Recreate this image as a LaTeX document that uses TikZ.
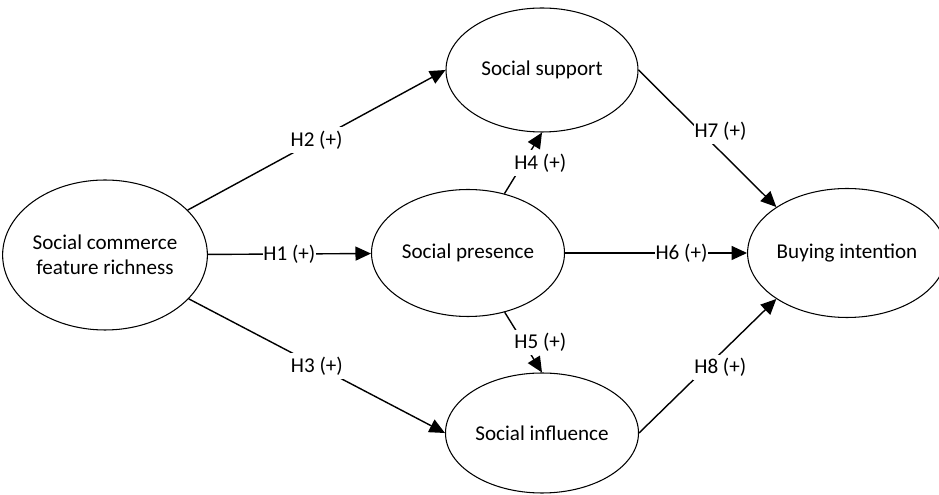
\documentclass[tikz,border=0pt]{standalone}
\usepackage{fontspec}
\setmainfont{Carlito}
\usepackage{tikz}
\usetikzlibrary{shapes.geometric,arrows.meta}

\begin{document}
\begin{tikzpicture}[
	construit/.style={ellipse,draw,semithick,inner sep=0pt,align=center,font=\fontsize{12}{14}\selectfont},
	hyp/.style={thick,-{Triangle[length=3.1mm,width=2.8mm]}},
	etiq/.style={fill=white,inner xsep=0.5pt,inner ysep=2pt,font=\fontsize{12}{14}\selectfont}
	]
	\useasboundingbox (0,0) rectangle (18.78,9.9);
	
	%Construits
	\node[construit,minimum width=3.92cm,minimum height=3cm] (scf) at (2.1,4.8) {Social commerce\\feature richness};
	\node[construit,minimum width=3.84cm,minimum height=2.48cm] (ss) at (10.84,8.5) {Social support};
	\node[construit,minimum width=3.86cm,minimum height=2.54cm] (sp) at (9.36,4.84) {Social presence};
	\node[construit,minimum width=3.86cm,minimum height=2.4cm] (si) at (10.84,1.24) {Social influence};
	\node[construit,minimum width=3.68cm,minimum height=2.58cm] (bi) at (16.94,4.84) {Buying intention};
	
	%Hypotheses
	\draw[hyp] (scf) -- node[etiq] {H1 (+)} (sp);
	\draw[hyp] (scf) -- node[etiq] {H2 (+)} (ss.west);
	\draw[hyp] (scf) -- node[etiq] {H3 (+)} (si.west);
	\draw[hyp] (sp) -- node[etiq,xshift=0.34cm] {H4 (+)} (ss.south);
	\draw[hyp] (sp) -- node[etiq,xshift=0.34cm] {H5 (+)} (si.north);
	\draw[hyp] (sp) -- node[etiq,pos=0.64] {H6 (+)} (bi);
	\draw[hyp] (ss.east) -- node[etiq,pos=0.45,xshift=0.4cm] {H7 (+)} (bi.north west);
	\draw[hyp] (si.east) -- node[etiq,pos=0.49,xshift=0.28cm] {H8 (+)} (bi.south west);
	
\end{tikzpicture}
\end{document}
